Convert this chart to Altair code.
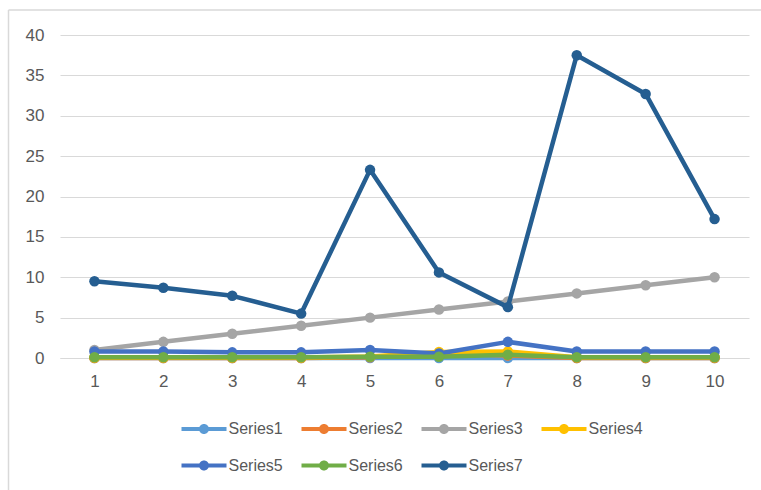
import altair as alt
import pandas as pd

categories = [1, 2, 3, 4, 5, 6, 7, 8, 9, 10]
series_names = ["Series1", "Series2", "Series3", "Series4", "Series5", "Series6", "Series7"]
series1 = [0, 0, 0, 0, 0, 0, 0, 0, 0, 0]
series2 = [0, 0, 0, 0, 0.1, 0.6, 0.3, 0, 0, 0]
series3 = [1, 2, 3, 4, 5, 6, 7, 8, 9, 10]
series4 = [0.05, 0.05, 0.05, 0.05, 0.2, 0.75, 0.8, 0.1, 0.1, 0.1]
series5 = [0.8, 0.8, 0.7, 0.7, 1.0, 0.55, 2.0, 0.8, 0.8, 0.8]
series6 = [0.1, 0.1, 0.1, 0.1, 0.15, 0.15, 0.4, 0.1, 0.1, 0.1]
series7 = [9.5, 8.7, 7.7, 5.5, 23.3, 10.6, 6.3, 37.5, 32.7, 17.2]
y_ticks = [0, 5, 10, 15, 20, 25, 30, 35, 40]
colors = ["#5B9BD5", "#ED7D31", "#A5A5A5", "#FFC000", "#4472C4", "#70AD47", "#255E91"]

all_values = [series1, series2, series3, series4, series5, series6, series7]
rows = []
for name, vals in zip(series_names, all_values):
    for c, v in zip(categories, vals):
        rows.append({"x": c, "value": v, "series": name})
df = pd.DataFrame(rows)

TEXT = "#595959"
GRID = "#D9D9D9"

# legend symbol: line with a dot (unit = sqrt(size)/2 = 10px)
sym_path = ("M-2.25,-0.21L2.25,-0.21L2.25,0.21L-2.25,0.21Z "
            "M-0.5,0A0.5,0.5 0 1,1 0.5,0A0.5,0.5 0 1,1 -0.5,0Z")

color = alt.Color(
    "series:N",
    scale=alt.Scale(domain=series_names, range=colors),
    legend=alt.Legend(
        title=None, orient="none", legendX=134, legendY=384,
        columns=4, direction="horizontal",
        symbolType=sym_path, symbolSize=400, symbolStrokeWidth=0,
        symbolOpacity=1,
        labelFont="Liberation Sans", labelFontSize=16, labelColor=TEXT,
        labelOffset=14.5, columnPadding=18, rowPadding=18.5, labelLimit=200,
        padding=0,
    ),
)

x_enc = alt.X("x:O", sort=categories,
              axis=alt.Axis(title=None, labelAngle=0, ticks=False, grid=False,
                            domain=True, domainColor=GRID, labelColor=TEXT,
                            labelFont="Liberation Sans", labelFontSize=17,
                            labelPadding=15))
y_enc = alt.Y("value:Q", scale=alt.Scale(domain=[0, 40], nice=False),
              axis=alt.Axis(title=None, values=y_ticks, ticks=False, domain=False,
                            grid=True, gridColor=GRID, labelColor=TEXT,
                            labelFont="Liberation Sans", labelFontSize=17,
                            labelPadding=16))

layers = []
for name in series_names:
    base = alt.Chart(df).transform_filter(alt.datum.series == name)
    line = base.mark_line(strokeWidth=4.5, strokeJoin="round").encode(x=x_enc, y=y_enc, color=color)
    pts = base.mark_point(filled=True, size=110, opacity=1).encode(x=x_enc, y=y_enc, color=color)
    layers += [line, pts]

frame_df = pd.DataFrame({"a": [0]})
border_left = alt.Chart(frame_df).mark_rule(color=GRID, strokeWidth=1.5).encode(
    x=alt.value(-51.5), y=alt.value(-25), y2=alt.value(460))
border_top = alt.Chart(frame_df).mark_rule(color=GRID, strokeWidth=1.5).encode(
    x=alt.value(-51.5), x2=alt.value(720), y=alt.value(-25))

chart = alt.layer(border_left, border_top, *layers).properties(
    width=689, height=323,
    autosize=alt.AutoSizeParams(type="none"),
    padding={"left": 60, "top": 35, "right": 12, "bottom": 132},
    background="white",
).configure_view(stroke=None)

chart.save("out.html", embed_options={"renderer": "svg", "actions": False})
